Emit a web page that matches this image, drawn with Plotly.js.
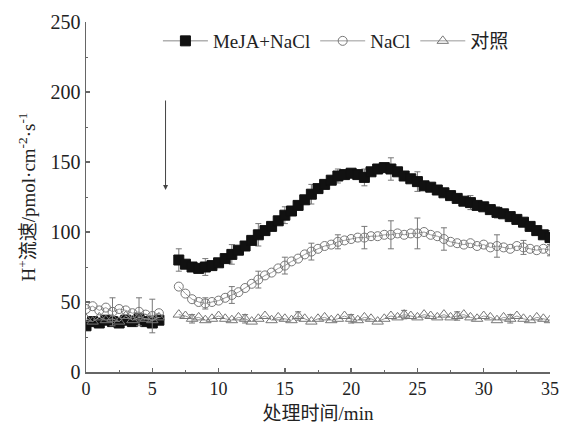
<!DOCTYPE html>
<html><head><meta charset="utf-8">
<script src="https://cdn.plot.ly/plotly-3.0.1.min.js"></script>
<style>html,body{margin:0;padding:0;background:#fff}#c{width:563px;height:430px}</style>
</head><body><div id="c"></div>
<script>
var seriesNames = ['MeJA+NaCl', 'NaCl', '对照'];
var preT = [0,0.5,1,1.5,2,2.5,3,3.5,4,4.5,5,5.5];
var postT = [7,7.5,8,8.5,9,9.5,10,10.5,11,11.5,12,12.5,13,13.5,14,14.5,15,15.5,16,16.5,17,17.5,18,18.5,19,19.5,20,20.5,21,21.5,22,22.5,23,23.5,24,24.5,25,25.5,26,26.5,27,27.5,28,28.5,29,29.5,30,30.5,31,31.5,32,32.5,33,33.5,34,34.5,35];

var mejaPre = [33,36,35,37,36,35,37,36,38,36,35,37];
var naclPre = [45,47,44,46,43,45,44,42,43,41,40,42];
var ctrlPre = [38,36,39,37,38,36,40,37,39,38,37,39];

var mejaPost = [80,77,75,74,75,76,78,81,84,87,90,94,98,101,104,108,112,115,119,123,127,131,134,137,140,141,142,141,139,143,145,146,145,143,140,138,136,133,132,130,128,126,124,122,121,119,118,116,114,113,111,109,107,104,101,98,96];
var naclPost = [61,56,52,50,49,50,51,53,55,57,60,63,66,69,71,74,76,79,81,84,86,88,90,91,93,94,95,96,96,97,97,98,98,99,98,99,99,100,98,97,95,93,92,91,92,90,91,89,90,89,88,90,89,88,87,88,87];
var ctrlPost = [41,40,38,39,37,38,40,38,37,39,38,36,38,40,37,39,38,37,40,38,36,38,39,37,38,40,38,37,39,38,36,38,40,39,41,40,39,41,40,39,41,39,40,41,39,38,40,39,37,39,38,40,38,37,39,38,37];

// error bars (time, half-width)
var mejaErrT = [7,9,11,13,15,17,19,21,23,25,29,31,35];
var mejaErrV = [8,6,7,8,6,7,5,6,8,7,5,4,5];
var naclErrT = [2,4,5,9,11,13,15,17,19,21,23,25,27,31,33,35];
var naclErrV = [10,10,12,4,6,6,6,6,5,8,10,11,8,8,5,4];
var ctrlErrT = [8,12,16,20,24,28,32];
var ctrlErrV = [3,3,3,3,3,3,3];

function errArr(ts, eT, eV){
  return ts.map(function(t){ var i = eT.indexOf(t); return i >= 0 ? eV[i] : NaN; });
}

var FONT = 'Liberation Serif, "Times New Roman", "Noto Sans CJK SC", serif';
var styles = [
  {marker:{symbol:'square', size:10, color:'#111', line:{color:'#111', width:1}}, line:{color:'#888', width:1}},
  {marker:{symbol:'circle-open', size:9, color:'#777', line:{color:'#777', width:1}}, line:{color:'#999', width:1}},
  {marker:{symbol:'triangle-up-open', size:10, color:'#777', line:{color:'#777', width:1}}, line:{color:'#999', width:1}}
];
var pres = [mejaPre, naclPre, ctrlPre];
var posts = [mejaPost, naclPost, ctrlPost];
var errTs = [mejaErrT, naclErrT, ctrlErrT];
var errVs = [mejaErrV, naclErrV, ctrlErrV];

var traces = [];
for (var s = 0; s < 3; s++) {
  [[preT, pres[s]], [postT, posts[s]]].forEach(function(p, k){
    traces.push({
      type:'scatter', mode:'lines+markers', x:p[0], y:p[1],
      name: seriesNames[s], legendgroup:'g'+s, showlegend: k === 1,
      marker: styles[s].marker, line: styles[s].line,
      error_y:{type:'data', array: errArr(p[0], errTs[s], errVs[s]), visible:true, color:'#777', thickness:1, width:3},
      hoverinfo:'x+y'
    });
  });
}

var layout = {
  width:563, height:430,
  margin:{l:86, r:13, t:22, b:58},
  paper_bgcolor:'#fff', plot_bgcolor:'#fff',
  font:{family:FONT, size:18, color:'#222'},
  showlegend:true,
  legend:{orientation:'h', x:0.155, y:1.0, xanchor:'left', yanchor:'top', bgcolor:'rgba(0,0,0,0)', font:{family:FONT, size:19, color:'#222'}, itemwidth:45, traceorder:'normal'},
  xaxis:{range:[0,35], dtick:5, tick0:0, showgrid:false, zeroline:false, showline:true, linecolor:'#666', linewidth:1.5,
    ticks:'inside', ticklen:4, tickcolor:'#666', tickwidth:1.5,
    minor:{dtick:2.5, ticks:'inside', ticklen:2, tickcolor:'#666', tickwidth:1},
    tickfont:{family:FONT, size:18, color:'#222'},
    title:{text:'处理时间/min', font:{family:FONT, size:19, color:'#222'}, standoff:8}},
  yaxis:{range:[0,250], dtick:50, tick0:0, showgrid:false, zeroline:false, showline:true, linecolor:'#666', linewidth:1.5,
    ticks:'inside', ticklen:4, tickcolor:'#666', tickwidth:1.5,
    minor:{dtick:25, ticks:'inside', ticklen:2, tickcolor:'#666', tickwidth:1},
    tickfont:{family:FONT, size:20, color:'#222'},
    title:{text:'H<sup>+</sup>流速/pmol·cm<sup>-2</sup>·s<sup>-1</sup>', font:{family:FONT, size:19, color:'#222'}, standoff:10}},
  annotations:[{x:6, y:130, ax:6, ay:195, xref:'x', yref:'y', axref:'x', ayref:'y', text:'', showarrow:true, arrowhead:2, arrowsize:1, arrowwidth:1, arrowcolor:'#444'}]
};

Plotly.newPlot('c', traces, layout, {displayModeBar:false, staticPlot:true});
</script></body></html>
